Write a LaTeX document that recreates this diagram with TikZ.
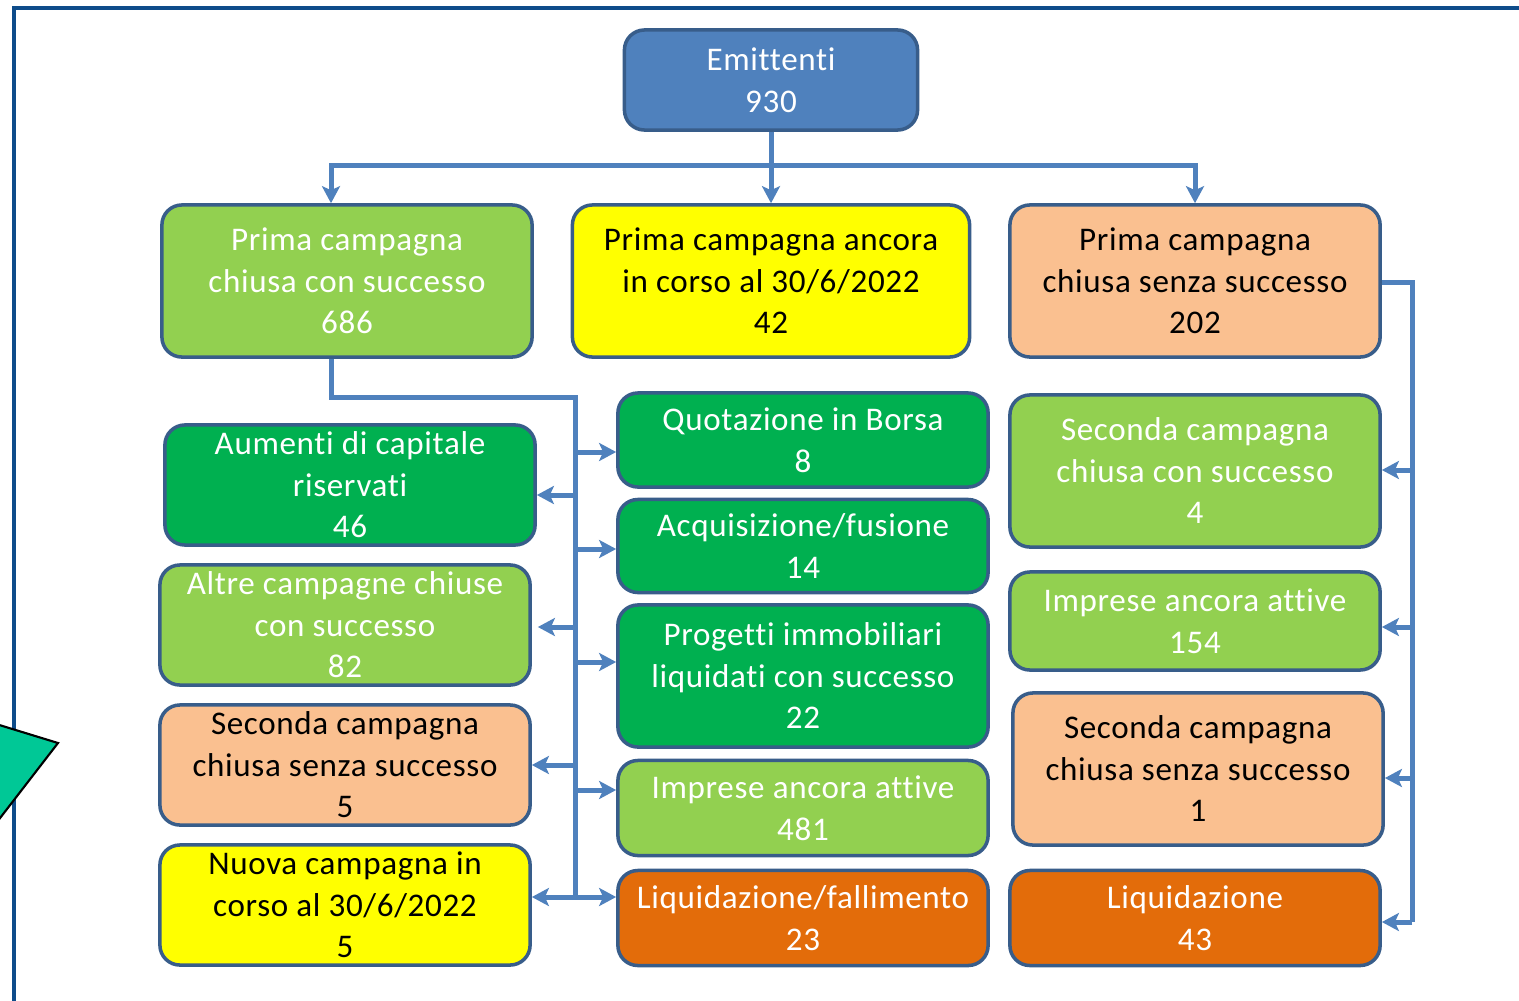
\documentclass[tikz,border=0pt]{standalone}
\usepackage{fontspec}
\setmainfont{Carlito}[Ligatures=NoCommon, LetterSpace=2.0]
\usepackage{xcolor}
\definecolor{yaleblue}{HTML}{0E4C8A}
\definecolor{glaucous}{HTML}{4F81BD}
\definecolor{lapis}{HTML}{385D8A}
\definecolor{yellowgreen}{HTML}{92D050}
\definecolor{pigmentgreen}{HTML}{00B050}
\definecolor{lemon}{HTML}{FFFF00}
\definecolor{apricot}{HTML}{FAC090}
\definecolor{tangerine}{HTML}{E36C0A}
\definecolor{caribbean}{HTML}{00C896}
\usetikzlibrary{arrows.meta}

\tikzset{
  box/.style={rectangle, rounded corners=0.2cm, draw=lapis, line width=1pt,
    align=center, inner sep=0pt, minimum width=3.7cm,
    font=\fontsize{9.4}{11.8}\selectfont},
  link/.style={glaucous, line width=0.05cm},
  arrow/.style={link, -{Stealth[length=0.17cm, width=0.18cm, inset=0.04cm]}}
}

\begin{document}
\begin{tikzpicture}[x=0.01cm, y=-0.01cm]
  % Background
  \clip (0, 0) rectangle (1519, 1000);
  \fill [white] (0, 0) rectangle (1519, 1000);
  \draw [yaleblue, line width=0.04cm] (14, 8) rectangle (1600, 1100);
  \filldraw [fill=caribbean, draw=black, line width=0.6pt]
    (-30, 716) -- (58, 743) -- (-20, 844) -- cycle;

  % Top
  \node[box, fill=glaucous, text=white, minimum width=2.93cm, minimum height=1cm] (emit) at (771, 80) {
    Emittenti\\930
  };
  \node[box, fill=yellowgreen, text=white, minimum height=1.52cm] (first) at (347, 281) {
    Prima campagna\\chiusa con successo\\686
  };
  \node[box, fill=lemon, minimum width=3.97cm, minimum height=1.52cm] (ongoing) at (771, 281) {
    Prima campagna ancora\\in corso al 30/6/2022\\42
  };
  \node[box, fill=apricot, minimum height=1.52cm] (failed) at (1195, 281) {
    Prima campagna\\chiusa senza successo\\202
  };

  % Left column
  \node[box, fill=pigmentgreen, text=white, minimum height=1.2cm] (capital) at (350, 485) {
    Aumenti di capitale\\riservati\\46
  };
  \node[box, fill=yellowgreen, text=white, minimum height=1.2cm] (others) at (345, 625) {
    Altre campagne chiuse\\con successo\\82
  };
  \node[box, fill=apricot, minimum height=1.2cm] (second) at (345, 765) {
    Seconda campagna\\chiusa senza successo\\5
  };
  \node[box, fill=lemon, minimum height=1.2cm] (newone) at (345, 905) {
    Nuova campagna in\\corso al 30/6/2022\\5
  };

  % Middle column
  \node[box, fill=pigmentgreen, text=white, minimum height=0.94cm] (listing) at (803, 440) {
    Quotazione in Borsa\\8
  };
  \node[box, fill=pigmentgreen, text=white, minimum height=0.93cm] (merger) at (803, 546) {
    Acquisizione/fusione\\14
  };
  \node[box, fill=pigmentgreen, text=white, minimum height=1.42cm] (realestate) at (803, 676) {
    Progetti immobiliari\\liquidati con successo\\22
  };
  \node[box, fill=yellowgreen, text=white, minimum height=0.95cm] (active) at (803, 808) {
    Imprese ancora attive\\481
  };
  \node[box, fill=tangerine, text=white, minimum height=0.95cm] (bankrupt) at (803, 918) {
    Liquidazione/fallimento\\23
  };

  % Right column
  \node[box, fill=yellowgreen, text=white, minimum height=1.52cm] (secondok) at (1195, 471) {
    Seconda campagna\\chiusa con successo\\4
  };
  \node[box, fill=yellowgreen, text=white, minimum height=0.98cm] (stillactive) at (1195, 621) {
    Imprese ancora attive\\154
  };
  \node[box, fill=apricot, minimum height=1.52cm] (secondko) at (1198, 769) {
    Seconda campagna\\chiusa senza successo\\1
  };
  \node[box, fill=tangerine, text=white, minimum height=0.95cm] (closed) at (1195, 918) {
    Liquidazione\\43
  };

  % Connectors from the top
  \coordinate (hub) at (771, 165);
  \coordinate (hubleft) at (331, 165);
  \draw[link] (emit.south) -- (hub);
  \draw[arrow] (hub) -- (ongoing.north);
  \draw[arrow] (hub) -- (hubleft) -- (hubleft |- first.north);
  \draw[arrow] (hub) -| (failed.north);

  % Left spine
  \coordinate (elbow) at (575, 397);
  \coordinate (spine) at (575, 897);
  \draw[link] (first.south -| hubleft) |- (elbow) -- (spine);
  \coordinate (s1) at (575, 452);
  \coordinate (s2) at (575, 495);
  \coordinate (s3) at (575, 549);
  \coordinate (s4) at (575, 627);
  \coordinate (s5) at (575, 662);
  \coordinate (s6) at (575, 765);
  \coordinate (s7) at (575, 790);
  \draw[arrow] (s1) -- (s1 -| listing.west);
  \draw[arrow] (s2) -- (s2 -| capital.east);
  \draw[arrow] (s3) -- (s3 -| merger.west);
  \draw[arrow] (s4) -- ([xshift=0.06cm]s4 -| others.east);
  \draw[arrow] (s5) -- (s5 -| realestate.west);
  \draw[arrow] (s6) -- (s6 -| second.east);
  \draw[arrow] (s7) -- (s7 -| active.west);
  \draw[arrow] (spine) -- (spine -| newone.east);
  \draw[arrow] (spine) -- (spine -| bankrupt.west);

  % Right spine
  \coordinate (corner) at (1412, 282);
  \coordinate (bottom) at (1412, 922);
  \draw[link] (failed.east |- corner) -- (corner) -- (bottom);
  \coordinate (r1) at (1412, 470);
  \coordinate (r2) at (1412, 627);
  \coordinate (r3) at (1412, 778);
  \draw[arrow] (r1) -- (r1 -| secondok.east);
  \draw[arrow] (r2) -- (r2 -| stillactive.east);
  \draw[arrow] (r3) -- (r3 -| secondko.east);
  \draw[arrow] (bottom) -- (bottom -| closed.east);
\end{tikzpicture}
\end{document}
